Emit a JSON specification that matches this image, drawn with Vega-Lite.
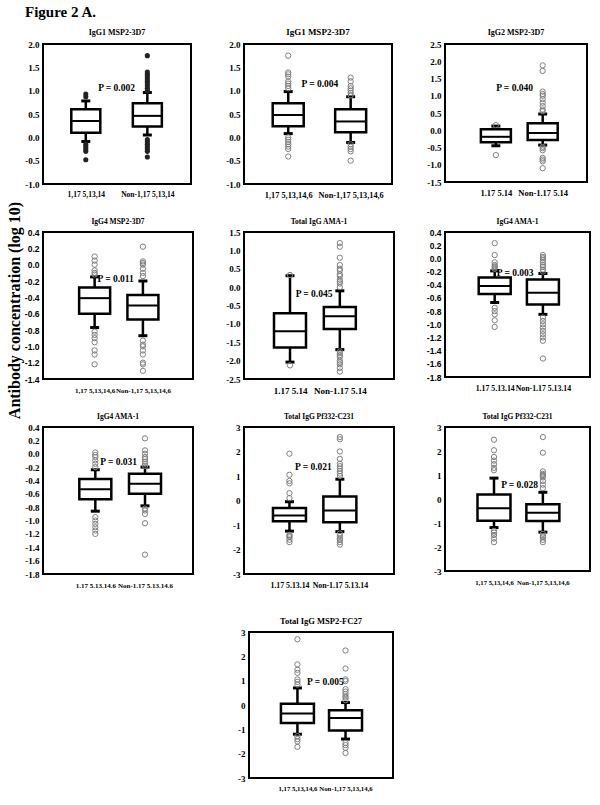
{
  "$schema": "https://vega.github.io/schema/vega-lite/v6.json",
  "background": "white",
  "padding": 5,
  "title": {"text": "Figure 2 A.", "anchor": "start", "frame": "group", "font": "Liberation Serif", "fontSize": 15, "fontWeight": "bold", "color": "black", "dx": -18, "offset": 7},
  "datasets": {
    "boxes": [
      {"panel": "p1", "g": 1, "lo": -0.09, "q1": 0.1, "med": 0.35, "q3": 0.6, "hi": 0.78},
      {"panel": "p1", "g": 2, "lo": 0.05, "q1": 0.23, "med": 0.46, "q3": 0.73, "hi": 0.96},
      {"panel": "p2", "g": 1, "lo": 0.08, "q1": 0.24, "med": 0.48, "q3": 0.73, "hi": 0.98},
      {"panel": "p2", "g": 2, "lo": -0.11, "q1": 0.11, "med": 0.34, "q3": 0.6, "hi": 0.87},
      {"panel": "p3", "g": 1, "lo": -0.45, "q1": -0.35, "med": -0.19, "q3": 0.03, "hi": 0.12},
      {"panel": "p3", "g": 2, "lo": -0.43, "q1": -0.28, "med": -0.08, "q3": 0.2, "hi": 0.47},
      {"panel": "p4", "g": 1, "lo": -0.77, "q1": -0.6, "med": -0.41, "q3": -0.28, "hi": -0.15},
      {"panel": "p4", "g": 2, "lo": -0.87, "q1": -0.67, "med": -0.5, "q3": -0.37, "hi": -0.2},
      {"panel": "p5", "g": 1, "lo": -2.04, "q1": -1.64, "med": -1.2, "q3": -0.71, "hi": 0.31},
      {"panel": "p5", "g": 2, "lo": -1.7, "q1": -1.14, "med": -0.79, "q3": -0.54, "hi": -0.1},
      {"panel": "p6", "g": 1, "lo": -0.67, "q1": -0.54, "med": -0.42, "q3": -0.29, "hi": -0.19},
      {"panel": "p6", "g": 2, "lo": -0.85, "q1": -0.7, "med": -0.52, "q3": -0.32, "hi": -0.23},
      {"panel": "p7", "g": 1, "lo": -0.86, "q1": -0.68, "med": -0.53, "q3": -0.38, "hi": -0.24},
      {"panel": "p7", "g": 2, "lo": -0.78, "q1": -0.6, "med": -0.45, "q3": -0.3, "hi": -0.2},
      {"panel": "p8", "g": 1, "lo": -1.25, "q1": -0.85, "med": -0.61, "q3": -0.31, "hi": -0.05},
      {"panel": "p8", "g": 2, "lo": -1.27, "q1": -0.89, "med": -0.41, "q3": 0.16, "hi": 0.87},
      {"panel": "p9", "g": 1, "lo": -1.19, "q1": -0.91, "med": -0.39, "q3": 0.19, "hi": 0.87},
      {"panel": "p9", "g": 2, "lo": -1.38, "q1": -0.92, "med": -0.57, "q3": -0.22, "hi": 0.28},
      {"panel": "p10", "g": 1, "lo": -1.2, "q1": -0.74, "med": -0.35, "q3": 0.05, "hi": 0.7},
      {"panel": "p10", "g": 2, "lo": -1.4, "q1": -1.05, "med": -0.53, "q3": -0.22, "hi": 0.1}
    ],
    "outliers": [
      {"panel": "p1", "g": 1, "v": 0.93}, {"panel": "p1", "g": 1, "v": 0.87}, {"panel": "p1", "g": 1, "v": -0.15}, {"panel": "p1", "g": 1, "v": -0.2}, {"panel": "p1", "g": 1, "v": -0.25}, {"panel": "p1", "g": 1, "v": -0.3}, {"panel": "p1", "g": 1, "v": -0.48},
      {"panel": "p1", "g": 2, "v": 1.0}, {"panel": "p1", "g": 2, "v": 1.05}, {"panel": "p1", "g": 2, "v": 1.1}, {"panel": "p1", "g": 2, "v": 1.15}, {"panel": "p1", "g": 2, "v": 1.2}, {"panel": "p1", "g": 2, "v": 1.25}, {"panel": "p1", "g": 2, "v": 1.3}, {"panel": "p1", "g": 2, "v": 1.35}, {"panel": "p1", "g": 2, "v": 1.4}, {"panel": "p1", "g": 2, "v": 1.75}, {"panel": "p1", "g": 2, "v": -0.05}, {"panel": "p1", "g": 2, "v": -0.1}, {"panel": "p1", "g": 2, "v": -0.15}, {"panel": "p1", "g": 2, "v": -0.2}, {"panel": "p1", "g": 2, "v": -0.25}, {"panel": "p1", "g": 2, "v": -0.3}, {"panel": "p1", "g": 2, "v": -0.42},
      {"panel": "p2", "g": 1, "v": 1.05}, {"panel": "p2", "g": 1, "v": 1.1}, {"panel": "p2", "g": 1, "v": 1.15}, {"panel": "p2", "g": 1, "v": 1.2}, {"panel": "p2", "g": 1, "v": 1.3}, {"panel": "p2", "g": 1, "v": 1.35}, {"panel": "p2", "g": 1, "v": 1.39}, {"panel": "p2", "g": 1, "v": 1.75}, {"panel": "p2", "g": 1, "v": 0.0}, {"panel": "p2", "g": 1, "v": -0.05}, {"panel": "p2", "g": 1, "v": -0.1}, {"panel": "p2", "g": 1, "v": -0.15}, {"panel": "p2", "g": 1, "v": -0.2}, {"panel": "p2", "g": 1, "v": -0.25}, {"panel": "p2", "g": 1, "v": -0.41},
      {"panel": "p2", "g": 2, "v": 0.9}, {"panel": "p2", "g": 2, "v": 0.95}, {"panel": "p2", "g": 2, "v": 1.0}, {"panel": "p2", "g": 2, "v": 1.05}, {"panel": "p2", "g": 2, "v": 1.1}, {"panel": "p2", "g": 2, "v": 1.2}, {"panel": "p2", "g": 2, "v": 1.28}, {"panel": "p2", "g": 2, "v": -0.15}, {"panel": "p2", "g": 2, "v": -0.2}, {"panel": "p2", "g": 2, "v": -0.25}, {"panel": "p2", "g": 2, "v": -0.3}, {"panel": "p2", "g": 2, "v": -0.5},
      {"panel": "p3", "g": 1, "v": 0.15}, {"panel": "p3", "g": 1, "v": -0.72},
      {"panel": "p3", "g": 2, "v": 0.55}, {"panel": "p3", "g": 2, "v": 0.6}, {"panel": "p3", "g": 2, "v": 0.7}, {"panel": "p3", "g": 2, "v": 0.8}, {"panel": "p3", "g": 2, "v": 0.9}, {"panel": "p3", "g": 2, "v": 1.0}, {"panel": "p3", "g": 2, "v": 1.05}, {"panel": "p3", "g": 2, "v": 1.12}, {"panel": "p3", "g": 2, "v": 1.72}, {"panel": "p3", "g": 2, "v": 1.88}, {"panel": "p3", "g": 2, "v": -0.48}, {"panel": "p3", "g": 2, "v": -0.52}, {"panel": "p3", "g": 2, "v": -0.58}, {"panel": "p3", "g": 2, "v": -0.8}, {"panel": "p3", "g": 2, "v": -0.85}, {"panel": "p3", "g": 2, "v": -0.9}, {"panel": "p3", "g": 2, "v": -1.1},
      {"panel": "p4", "g": 1, "v": 0.1}, {"panel": "p4", "g": 1, "v": 0.05}, {"panel": "p4", "g": 1, "v": 0.0}, {"panel": "p4", "g": 1, "v": -0.07}, {"panel": "p4", "g": 1, "v": -0.1}, {"panel": "p4", "g": 1, "v": -0.12}, {"panel": "p4", "g": 1, "v": -0.82}, {"panel": "p4", "g": 1, "v": -0.86}, {"panel": "p4", "g": 1, "v": -0.9}, {"panel": "p4", "g": 1, "v": -0.95}, {"panel": "p4", "g": 1, "v": -1.05}, {"panel": "p4", "g": 1, "v": -1.1}, {"panel": "p4", "g": 1, "v": -1.22},
      {"panel": "p4", "g": 2, "v": 0.22}, {"panel": "p4", "g": 2, "v": 0.04}, {"panel": "p4", "g": 2, "v": 0.02}, {"panel": "p4", "g": 2, "v": 0.0}, {"panel": "p4", "g": 2, "v": -0.05}, {"panel": "p4", "g": 2, "v": -0.1}, {"panel": "p4", "g": 2, "v": -0.14}, {"panel": "p4", "g": 2, "v": -0.93}, {"panel": "p4", "g": 2, "v": -0.98}, {"panel": "p4", "g": 2, "v": -1.0}, {"panel": "p4", "g": 2, "v": -1.05}, {"panel": "p4", "g": 2, "v": -1.1}, {"panel": "p4", "g": 2, "v": -1.2}, {"panel": "p4", "g": 2, "v": -1.22}, {"panel": "p4", "g": 2, "v": -1.3},
      {"panel": "p5", "g": 1, "v": 0.33}, {"panel": "p5", "g": 1, "v": -2.13},
      {"panel": "p5", "g": 2, "v": 1.2}, {"panel": "p5", "g": 2, "v": 1.1}, {"panel": "p5", "g": 2, "v": 0.8}, {"panel": "p5", "g": 2, "v": 0.6}, {"panel": "p5", "g": 2, "v": 0.5}, {"panel": "p5", "g": 2, "v": 0.45}, {"panel": "p5", "g": 2, "v": 0.35}, {"panel": "p5", "g": 2, "v": 0.3}, {"panel": "p5", "g": 2, "v": 0.2}, {"panel": "p5", "g": 2, "v": 0.15}, {"panel": "p5", "g": 2, "v": 0.1}, {"panel": "p5", "g": 2, "v": 0.0}, {"panel": "p5", "g": 2, "v": -1.75}, {"panel": "p5", "g": 2, "v": -1.8}, {"panel": "p5", "g": 2, "v": -1.85}, {"panel": "p5", "g": 2, "v": -1.9}, {"panel": "p5", "g": 2, "v": -2.0}, {"panel": "p5", "g": 2, "v": -2.05}, {"panel": "p5", "g": 2, "v": -2.1}, {"panel": "p5", "g": 2, "v": -2.2}, {"panel": "p5", "g": 2, "v": -2.3},
      {"panel": "p6", "g": 1, "v": 0.23}, {"panel": "p6", "g": 1, "v": 0.05}, {"panel": "p6", "g": 1, "v": -0.06}, {"panel": "p6", "g": 1, "v": -0.1}, {"panel": "p6", "g": 1, "v": -0.12}, {"panel": "p6", "g": 1, "v": -0.14}, {"panel": "p6", "g": 1, "v": -0.16}, {"panel": "p6", "g": 1, "v": -0.75}, {"panel": "p6", "g": 1, "v": -0.8}, {"panel": "p6", "g": 1, "v": -0.85}, {"panel": "p6", "g": 1, "v": -0.94}, {"panel": "p6", "g": 1, "v": -1.04},
      {"panel": "p6", "g": 2, "v": 0.05}, {"panel": "p6", "g": 2, "v": 0.02}, {"panel": "p6", "g": 2, "v": 0.0}, {"panel": "p6", "g": 2, "v": -0.03}, {"panel": "p6", "g": 2, "v": -0.06}, {"panel": "p6", "g": 2, "v": -0.1}, {"panel": "p6", "g": 2, "v": -0.13}, {"panel": "p6", "g": 2, "v": -0.17}, {"panel": "p6", "g": 2, "v": -0.2}, {"panel": "p6", "g": 2, "v": -0.9}, {"panel": "p6", "g": 2, "v": -0.95}, {"panel": "p6", "g": 2, "v": -1.0}, {"panel": "p6", "g": 2, "v": -1.05}, {"panel": "p6", "g": 2, "v": -1.1}, {"panel": "p6", "g": 2, "v": -1.15}, {"panel": "p6", "g": 2, "v": -1.2}, {"panel": "p6", "g": 2, "v": -1.25}, {"panel": "p6", "g": 2, "v": -1.52},
      {"panel": "p7", "g": 1, "v": 0.02}, {"panel": "p7", "g": 1, "v": -0.02}, {"panel": "p7", "g": 1, "v": -0.05}, {"panel": "p7", "g": 1, "v": -0.1}, {"panel": "p7", "g": 1, "v": -0.15}, {"panel": "p7", "g": 1, "v": -0.2}, {"panel": "p7", "g": 1, "v": -0.95}, {"panel": "p7", "g": 1, "v": -1.0}, {"panel": "p7", "g": 1, "v": -1.05}, {"panel": "p7", "g": 1, "v": -1.1}, {"panel": "p7", "g": 1, "v": -1.15}, {"panel": "p7", "g": 1, "v": -1.2},
      {"panel": "p7", "g": 2, "v": 0.23}, {"panel": "p7", "g": 2, "v": 0.05}, {"panel": "p7", "g": 2, "v": 0.0}, {"panel": "p7", "g": 2, "v": -0.05}, {"panel": "p7", "g": 2, "v": -0.08}, {"panel": "p7", "g": 2, "v": -0.12}, {"panel": "p7", "g": 2, "v": -0.15}, {"panel": "p7", "g": 2, "v": -0.18}, {"panel": "p7", "g": 2, "v": -0.82}, {"panel": "p7", "g": 2, "v": -0.85}, {"panel": "p7", "g": 2, "v": -0.9}, {"panel": "p7", "g": 2, "v": -1.04}, {"panel": "p7", "g": 2, "v": -1.51},
      {"panel": "p8", "g": 1, "v": 1.91}, {"panel": "p8", "g": 1, "v": 1.05}, {"panel": "p8", "g": 1, "v": 0.8}, {"panel": "p8", "g": 1, "v": 0.7}, {"panel": "p8", "g": 1, "v": 0.3}, {"panel": "p8", "g": 1, "v": 0.1}, {"panel": "p8", "g": 1, "v": -1.4}, {"panel": "p8", "g": 1, "v": -1.45}, {"panel": "p8", "g": 1, "v": -1.5}, {"panel": "p8", "g": 1, "v": -1.6}, {"panel": "p8", "g": 1, "v": -1.7},
      {"panel": "p8", "g": 2, "v": 2.59}, {"panel": "p8", "g": 2, "v": 2.5}, {"panel": "p8", "g": 2, "v": 2.0}, {"panel": "p8", "g": 2, "v": 1.7}, {"panel": "p8", "g": 2, "v": 1.5}, {"panel": "p8", "g": 2, "v": 1.4}, {"panel": "p8", "g": 2, "v": 1.3}, {"panel": "p8", "g": 2, "v": 1.2}, {"panel": "p8", "g": 2, "v": 1.1}, {"panel": "p8", "g": 2, "v": 1.0}, {"panel": "p8", "g": 2, "v": -1.35}, {"panel": "p8", "g": 2, "v": -1.45}, {"panel": "p8", "g": 2, "v": -1.55}, {"panel": "p8", "g": 2, "v": -1.6}, {"panel": "p8", "g": 2, "v": -1.7}, {"panel": "p8", "g": 2, "v": -1.8},
      {"panel": "p9", "g": 1, "v": 2.47}, {"panel": "p9", "g": 1, "v": 2.03}, {"panel": "p9", "g": 1, "v": 1.75}, {"panel": "p9", "g": 1, "v": 1.6}, {"panel": "p9", "g": 1, "v": 1.45}, {"panel": "p9", "g": 1, "v": 1.3}, {"panel": "p9", "g": 1, "v": 1.2}, {"panel": "p9", "g": 1, "v": -1.33}, {"panel": "p9", "g": 1, "v": -1.4}, {"panel": "p9", "g": 1, "v": -1.5}, {"panel": "p9", "g": 1, "v": -1.65}, {"panel": "p9", "g": 1, "v": -1.8},
      {"panel": "p9", "g": 2, "v": 2.58}, {"panel": "p9", "g": 2, "v": 1.93}, {"panel": "p9", "g": 2, "v": 1.15}, {"panel": "p9", "g": 2, "v": 1.05}, {"panel": "p9", "g": 2, "v": 1.0}, {"panel": "p9", "g": 2, "v": 0.95}, {"panel": "p9", "g": 2, "v": 0.9}, {"panel": "p9", "g": 2, "v": 0.75}, {"panel": "p9", "g": 2, "v": 0.6}, {"panel": "p9", "g": 2, "v": 0.45}, {"panel": "p9", "g": 2, "v": -1.45}, {"panel": "p9", "g": 2, "v": -1.55}, {"panel": "p9", "g": 2, "v": -1.6}, {"panel": "p9", "g": 2, "v": -1.7}, {"panel": "p9", "g": 2, "v": -1.8},
      {"panel": "p10", "g": 1, "v": 2.7}, {"panel": "p10", "g": 1, "v": 1.67}, {"panel": "p10", "g": 1, "v": 1.45}, {"panel": "p10", "g": 1, "v": 1.32}, {"panel": "p10", "g": 1, "v": 1.05}, {"panel": "p10", "g": 1, "v": 0.95}, {"panel": "p10", "g": 1, "v": 0.84}, {"panel": "p10", "g": 1, "v": -1.28}, {"panel": "p10", "g": 1, "v": -1.4}, {"panel": "p10", "g": 1, "v": -1.5}, {"panel": "p10", "g": 1, "v": -1.72},
      {"panel": "p10", "g": 2, "v": 2.24}, {"panel": "p10", "g": 2, "v": 1.5}, {"panel": "p10", "g": 2, "v": 1.05}, {"panel": "p10", "g": 2, "v": 0.98}, {"panel": "p10", "g": 2, "v": 0.65}, {"panel": "p10", "g": 2, "v": 0.55}, {"panel": "p10", "g": 2, "v": 0.45}, {"panel": "p10", "g": 2, "v": 0.35}, {"panel": "p10", "g": 2, "v": 0.3}, {"panel": "p10", "g": 2, "v": 0.2}, {"panel": "p10", "g": 2, "v": -1.56}, {"panel": "p10", "g": 2, "v": -1.65}, {"panel": "p10", "g": 2, "v": -1.76}, {"panel": "p10", "g": 2, "v": -1.97}
    ],
    "pvals": [
      {"panel": "p1", "p": "P = 0.002", "px": 1.5, "py": 1.05}, {"panel": "p2", "p": "P = 0.004", "px": 1.508, "py": 1.14}, {"panel": "p3", "p": "P = 0.040", "px": 1.4, "py": 1.23},
      {"panel": "p4", "p": "P = 0.011", "px": 1.435, "py": -0.18}, {"panel": "p5", "p": "P = 0.045", "px": 1.483, "py": -0.18}, {"panel": "p6", "p": "P = 0.003", "px": 1.425, "py": -0.22},
      {"panel": "p7", "p": "P = 0.031", "px": 1.47, "py": -0.13}, {"panel": "p8", "p": "P = 0.021", "px": 1.475, "py": 1.36}, {"panel": "p9", "p": "P = 0.028", "px": 1.523, "py": 0.58},
      {"panel": "p10", "p": "P = 0.005", "px": 1.582, "py": 0.95}
    ]
  },
  "spacing": 25,
  "vconcat": [
    {
      "columns": 3,
      "bounds": "flush",
      "align": "each",
      "spacing": {"row": 48, "column": 51},
      "concat": [
        {
          "width": 148, "height": 140,
          "title": {"text": "IgG1 MSP2-3D7", "fontSize": 8},
          "encoding": {"x": {"field": "g", "type": "quantitative", "title": null, "scale": {"domain": [0.386, 2.628]}, "axis": {"values": [1, 2], "labelExpr": "datum.value == 1 ? '1,17 5,13,14' : 'Non-1,17 5,13,14'", "labelFontSize": 7.5, "labelPadding": 6, "labelOverlap": false, "title": null}}},
          "layer": [
            {"data": {"name": "boxes"}, "transform": [{"filter": "datum.panel == 'p1'"}], "mark": {"type": "rule", "color": "black", "strokeWidth": 2.5}, "encoding": {"y": {"field": "lo", "type": "quantitative", "title": "Antibody concentration (log 10)", "scale": {"domain": [-1, 2]}, "axis": {"values": [-1, -0.5, 0, 0.5, 1, 1.5, 2], "tickCount": 30, "format": ".1f", "labelExpr": "replace(datum.label, '\u2212', '-')", "labelFontSize": 9, "labelOverlap": false, "title": "Antibody concentration (log 10)", "titleFontSize": 16, "titlePadding": 2, "titleY": 266}}, "y2": {"field": "hi"}}},
            {"data": {"name": "boxes"}, "transform": [{"filter": "datum.panel == 'p1'"}], "mark": {"type": "bar", "size": 29, "fill": "white", "stroke": "black", "strokeWidth": 2.5}, "encoding": {"y": {"field": "q1", "type": "quantitative"}, "y2": {"field": "q3"}}},
            {"data": {"name": "boxes"}, "transform": [{"filter": "datum.panel == 'p1'"}], "mark": {"type": "tick", "orient": "horizontal", "size": 29, "thickness": 2, "color": "black", "opacity": 1}, "encoding": {"y": {"field": "med", "type": "quantitative"}}},
            {"data": {"name": "boxes"}, "transform": [{"filter": "datum.panel == 'p1'"}], "mark": {"type": "tick", "orient": "horizontal", "size": 9, "thickness": 3, "color": "black", "opacity": 1}, "encoding": {"y": {"field": "lo", "type": "quantitative"}}},
            {"data": {"name": "boxes"}, "transform": [{"filter": "datum.panel == 'p1'"}], "mark": {"type": "tick", "orient": "horizontal", "size": 9, "thickness": 3, "color": "black", "opacity": 1}, "encoding": {"y": {"field": "hi", "type": "quantitative"}}},
            {"data": {"name": "outliers"}, "transform": [{"filter": "datum.panel == 'p1'"}], "mark": {"type": "point", "shape": "circle", "size": 26, "filled": true, "color": "#222222", "opacity": 1}, "encoding": {"y": {"field": "v", "type": "quantitative"}}},
            {"data": {"name": "pvals"}, "transform": [{"filter": "datum.panel == 'p1'"}], "mark": {"type": "text", "font": "Liberation Serif", "fontWeight": "bold", "fontSize": 9.5, "color": "black"}, "encoding": {"x": {"field": "px", "type": "quantitative", "title": null}, "y": {"field": "py", "type": "quantitative"}, "text": {"field": "p"}}}
          ]
        },
        {
          "width": 148, "height": 140,
          "title": {"text": "IgG1 MSP2-3D7", "fontSize": 9},
          "encoding": {"x": {"field": "g", "type": "quantitative", "title": null, "scale": {"domain": [0.372, 2.582]}, "axis": {"values": [1, 2], "labelExpr": "datum.value == 1 ? '1,17 5,13,14,6' : 'Non-1,17 5,13,14,6'", "labelFontSize": 8.3, "labelPadding": 6, "labelOverlap": false, "title": null}}},
          "layer": [
            {"data": {"name": "boxes"}, "transform": [{"filter": "datum.panel == 'p2'"}], "mark": {"type": "rule", "color": "black", "strokeWidth": 2.5}, "encoding": {"y": {"field": "lo", "type": "quantitative", "title": null, "scale": {"domain": [-1, 2]}, "axis": {"values": [-1, -0.5, 0, 0.5, 1, 1.5, 2], "tickCount": 30, "format": ".1f", "labelExpr": "replace(datum.label, '\u2212', '-')", "labelFontSize": 9, "labelOverlap": false, "title": null}}, "y2": {"field": "hi"}}},
            {"data": {"name": "boxes"}, "transform": [{"filter": "datum.panel == 'p2'"}], "mark": {"type": "bar", "size": 31, "fill": "white", "stroke": "black", "strokeWidth": 2.5}, "encoding": {"y": {"field": "q1", "type": "quantitative", "title": null}, "y2": {"field": "q3"}}},
            {"data": {"name": "boxes"}, "transform": [{"filter": "datum.panel == 'p2'"}], "mark": {"type": "tick", "orient": "horizontal", "size": 31, "thickness": 2, "color": "black", "opacity": 1}, "encoding": {"y": {"field": "med", "type": "quantitative", "title": null}}},
            {"data": {"name": "boxes"}, "transform": [{"filter": "datum.panel == 'p2'"}], "mark": {"type": "tick", "orient": "horizontal", "size": 9, "thickness": 3, "color": "black", "opacity": 1}, "encoding": {"y": {"field": "lo", "type": "quantitative", "title": null}}},
            {"data": {"name": "boxes"}, "transform": [{"filter": "datum.panel == 'p2'"}], "mark": {"type": "tick", "orient": "horizontal", "size": 9, "thickness": 3, "color": "black", "opacity": 1}, "encoding": {"y": {"field": "hi", "type": "quantitative", "title": null}}},
            {"data": {"name": "outliers"}, "transform": [{"filter": "datum.panel == 'p2'"}], "mark": {"type": "point", "shape": "circle", "size": 28, "filled": false, "color": "#808080", "strokeWidth": 1, "opacity": 1}, "encoding": {"y": {"field": "v", "type": "quantitative", "title": null}}},
            {"data": {"name": "pvals"}, "transform": [{"filter": "datum.panel == 'p2'"}], "mark": {"type": "text", "font": "Liberation Serif", "fontWeight": "bold", "fontSize": 9.5, "color": "black"}, "encoding": {"x": {"field": "px", "type": "quantitative", "title": null}, "y": {"field": "py", "type": "quantitative", "title": null}, "text": {"field": "p"}}}
          ]
        },
        {
          "width": 142, "height": 138,
          "title": {"text": "IgG2 MSP2-3D7", "fontSize": 8},
          "encoding": {"x": {"field": "g", "type": "quantitative", "title": null, "scale": {"domain": [0.02, 2.84]}, "axis": {"values": [1, 2], "labelExpr": "datum.value == 1 ? '1.17 5.14' : 'Non-1.17 5.14'", "labelFontSize": 8.5, "labelPadding": 6, "labelOverlap": false, "title": null}}},
          "layer": [
            {"data": {"name": "boxes"}, "transform": [{"filter": "datum.panel == 'p3'"}], "mark": {"type": "rule", "color": "black", "strokeWidth": 2.5}, "encoding": {"y": {"field": "lo", "type": "quantitative", "title": null, "scale": {"domain": [-1.5, 2.5]}, "axis": {"values": [-1.5, -1, -0.5, 0, 0.5, 1, 1.5, 2, 2.5], "tickCount": 30, "format": ".1f", "labelExpr": "replace(datum.label, '\u2212', '-')", "labelFontSize": 9, "labelOverlap": false, "title": null}}, "y2": {"field": "hi"}}},
            {"data": {"name": "boxes"}, "transform": [{"filter": "datum.panel == 'p3'"}], "mark": {"type": "bar", "size": 30, "fill": "white", "stroke": "black", "strokeWidth": 2.5}, "encoding": {"y": {"field": "q1", "type": "quantitative", "title": null}, "y2": {"field": "q3"}}},
            {"data": {"name": "boxes"}, "transform": [{"filter": "datum.panel == 'p3'"}], "mark": {"type": "tick", "orient": "horizontal", "size": 30, "thickness": 2, "color": "black", "opacity": 1}, "encoding": {"y": {"field": "med", "type": "quantitative", "title": null}}},
            {"data": {"name": "boxes"}, "transform": [{"filter": "datum.panel == 'p3'"}], "mark": {"type": "tick", "orient": "horizontal", "size": 9, "thickness": 3, "color": "black", "opacity": 1}, "encoding": {"y": {"field": "lo", "type": "quantitative", "title": null}}},
            {"data": {"name": "boxes"}, "transform": [{"filter": "datum.panel == 'p3'"}], "mark": {"type": "tick", "orient": "horizontal", "size": 9, "thickness": 3, "color": "black", "opacity": 1}, "encoding": {"y": {"field": "hi", "type": "quantitative", "title": null}}},
            {"data": {"name": "outliers"}, "transform": [{"filter": "datum.panel == 'p3'"}], "mark": {"type": "point", "shape": "circle", "size": 28, "filled": false, "color": "#808080", "strokeWidth": 1, "opacity": 1}, "encoding": {"y": {"field": "v", "type": "quantitative", "title": null}}},
            {"data": {"name": "pvals"}, "transform": [{"filter": "datum.panel == 'p3'"}], "mark": {"type": "text", "font": "Liberation Serif", "fontWeight": "bold", "fontSize": 9.5, "color": "black"}, "encoding": {"x": {"field": "px", "type": "quantitative", "title": null}, "y": {"field": "py", "type": "quantitative", "title": null}, "text": {"field": "p"}}}
          ]
        },
        {
          "width": 150, "height": 147,
          "title": {"text": "IgG4 MSP2-3D7", "fontSize": 7.5},
          "encoding": {"x": {"field": "g", "type": "quantitative", "title": null, "scale": {"domain": [0.034, 2.934]}, "axis": {"values": [1, 2], "labelExpr": "datum.value == 1 ? '1,17 5,13,14,6' : 'Non-1,17 5,13,14,6'", "labelFontSize": 7, "labelPadding": 7, "labelOverlap": false, "title": null}}},
          "layer": [
            {"data": {"name": "boxes"}, "transform": [{"filter": "datum.panel == 'p4'"}], "mark": {"type": "rule", "color": "black", "strokeWidth": 2.5}, "encoding": {"y": {"field": "lo", "type": "quantitative", "title": null, "scale": {"domain": [-1.4, 0.4]}, "axis": {"values": [-1.4, -1.2, -1, -0.8, -0.6, -0.4, -0.2, 0, 0.2, 0.4], "tickCount": 30, "format": ".1f", "labelExpr": "replace(datum.label, '\u2212', '-')", "labelFont": "Liberation Sans", "labelFontSize": 8.5, "labelOverlap": false, "title": null}}, "y2": {"field": "hi"}}},
            {"data": {"name": "boxes"}, "transform": [{"filter": "datum.panel == 'p4'"}], "mark": {"type": "bar", "size": 31, "fill": "white", "stroke": "black", "strokeWidth": 2.5}, "encoding": {"y": {"field": "q1", "type": "quantitative", "title": null}, "y2": {"field": "q3"}}},
            {"data": {"name": "boxes"}, "transform": [{"filter": "datum.panel == 'p4'"}], "mark": {"type": "tick", "orient": "horizontal", "size": 31, "thickness": 2, "color": "black", "opacity": 1}, "encoding": {"y": {"field": "med", "type": "quantitative", "title": null}}},
            {"data": {"name": "boxes"}, "transform": [{"filter": "datum.panel == 'p4'"}], "mark": {"type": "tick", "orient": "horizontal", "size": 9, "thickness": 3, "color": "black", "opacity": 1}, "encoding": {"y": {"field": "lo", "type": "quantitative", "title": null}}},
            {"data": {"name": "boxes"}, "transform": [{"filter": "datum.panel == 'p4'"}], "mark": {"type": "tick", "orient": "horizontal", "size": 9, "thickness": 3, "color": "black", "opacity": 1}, "encoding": {"y": {"field": "hi", "type": "quantitative", "title": null}}},
            {"data": {"name": "outliers"}, "transform": [{"filter": "datum.panel == 'p4'"}], "mark": {"type": "point", "shape": "circle", "size": 28, "filled": false, "color": "#808080", "strokeWidth": 1, "opacity": 1}, "encoding": {"y": {"field": "v", "type": "quantitative", "title": null}}},
            {"data": {"name": "pvals"}, "transform": [{"filter": "datum.panel == 'p4'"}], "mark": {"type": "text", "font": "Liberation Serif", "fontWeight": "bold", "fontSize": 9.5, "color": "black"}, "encoding": {"x": {"field": "px", "type": "quantitative", "title": null}, "y": {"field": "py", "type": "quantitative", "title": null}, "text": {"field": "p"}}}
          ]
        },
        {
          "width": 150, "height": 147,
          "title": {"text": "Total IgG AMA-1", "fontSize": 7.5},
          "encoding": {"x": {"field": "g", "type": "quantitative", "title": null, "scale": {"domain": [0.177, 2.987]}, "axis": {"values": [1, 2], "labelExpr": "datum.value == 1 ? '1.17 5.14' : 'Non-1.17 5.14'", "labelFontSize": 9, "labelPadding": 7, "labelOverlap": false, "title": null}}},
          "layer": [
            {"data": {"name": "boxes"}, "transform": [{"filter": "datum.panel == 'p5'"}], "mark": {"type": "rule", "color": "black", "strokeWidth": 2.5}, "encoding": {"y": {"field": "lo", "type": "quantitative", "title": null, "scale": {"domain": [-2.5, 1.5]}, "axis": {"values": [-2.5, -2, -1.5, -1, -0.5, 0, 0.5, 1, 1.5], "tickCount": 30, "format": ".1f", "labelExpr": "replace(datum.label, '\u2212', '-')", "labelFontSize": 9, "labelOverlap": false, "title": null}}, "y2": {"field": "hi"}}},
            {"data": {"name": "boxes"}, "transform": [{"filter": "datum.panel == 'p5'"}], "mark": {"type": "bar", "size": 32, "fill": "white", "stroke": "black", "strokeWidth": 2.5}, "encoding": {"y": {"field": "q1", "type": "quantitative", "title": null}, "y2": {"field": "q3"}}},
            {"data": {"name": "boxes"}, "transform": [{"filter": "datum.panel == 'p5'"}], "mark": {"type": "tick", "orient": "horizontal", "size": 32, "thickness": 2, "color": "black", "opacity": 1}, "encoding": {"y": {"field": "med", "type": "quantitative", "title": null}}},
            {"data": {"name": "boxes"}, "transform": [{"filter": "datum.panel == 'p5'"}], "mark": {"type": "tick", "orient": "horizontal", "size": 9, "thickness": 3, "color": "black", "opacity": 1}, "encoding": {"y": {"field": "lo", "type": "quantitative", "title": null}}},
            {"data": {"name": "boxes"}, "transform": [{"filter": "datum.panel == 'p5'"}], "mark": {"type": "tick", "orient": "horizontal", "size": 9, "thickness": 3, "color": "black", "opacity": 1}, "encoding": {"y": {"field": "hi", "type": "quantitative", "title": null}}},
            {"data": {"name": "outliers"}, "transform": [{"filter": "datum.panel == 'p5'"}], "mark": {"type": "point", "shape": "circle", "size": 28, "filled": false, "color": "#808080", "strokeWidth": 1, "opacity": 1}, "encoding": {"y": {"field": "v", "type": "quantitative", "title": null}}},
            {"data": {"name": "pvals"}, "transform": [{"filter": "datum.panel == 'p5'"}], "mark": {"type": "text", "font": "Liberation Serif", "fontWeight": "bold", "fontSize": 9.5, "color": "black"}, "encoding": {"x": {"field": "px", "type": "quantitative", "title": null}, "y": {"field": "py", "type": "quantitative", "title": null}, "text": {"field": "p"}}}
          ]
        },
        {
          "width": 145, "height": 145,
          "title": {"text": "IgG4 AMA-1", "fontSize": 7.5},
          "encoding": {"x": {"field": "g", "type": "quantitative", "title": null, "scale": {"domain": [0.073, 2.873]}, "axis": {"values": [1, 2], "labelExpr": "datum.value == 1 ? '1.17 5.13.14' : 'Non-1.17 5.13.14'", "labelFontSize": 7.8, "labelPadding": 7, "labelOverlap": false, "title": null}}},
          "layer": [
            {"data": {"name": "boxes"}, "transform": [{"filter": "datum.panel == 'p6'"}], "mark": {"type": "rule", "color": "black", "strokeWidth": 2.5}, "encoding": {"y": {"field": "lo", "type": "quantitative", "title": null, "scale": {"domain": [-1.8, 0.4]}, "axis": {"values": [-1.8, -1.6, -1.4, -1.2, -1, -0.8, -0.6, -0.4, -0.2, 0, 0.2, 0.4], "tickCount": 30, "format": ".1f", "labelExpr": "replace(datum.label, '\u2212', '-')", "labelFont": "Liberation Sans", "labelFontSize": 8.5, "labelOverlap": false, "title": null}}, "y2": {"field": "hi"}}},
            {"data": {"name": "boxes"}, "transform": [{"filter": "datum.panel == 'p6'"}], "mark": {"type": "bar", "size": 32, "fill": "white", "stroke": "black", "strokeWidth": 2.5}, "encoding": {"y": {"field": "q1", "type": "quantitative", "title": null}, "y2": {"field": "q3"}}},
            {"data": {"name": "boxes"}, "transform": [{"filter": "datum.panel == 'p6'"}], "mark": {"type": "tick", "orient": "horizontal", "size": 32, "thickness": 2, "color": "black", "opacity": 1}, "encoding": {"y": {"field": "med", "type": "quantitative", "title": null}}},
            {"data": {"name": "boxes"}, "transform": [{"filter": "datum.panel == 'p6'"}], "mark": {"type": "tick", "orient": "horizontal", "size": 9, "thickness": 3, "color": "black", "opacity": 1}, "encoding": {"y": {"field": "lo", "type": "quantitative", "title": null}}},
            {"data": {"name": "boxes"}, "transform": [{"filter": "datum.panel == 'p6'"}], "mark": {"type": "tick", "orient": "horizontal", "size": 9, "thickness": 3, "color": "black", "opacity": 1}, "encoding": {"y": {"field": "hi", "type": "quantitative", "title": null}}},
            {"data": {"name": "outliers"}, "transform": [{"filter": "datum.panel == 'p6'"}], "mark": {"type": "point", "shape": "circle", "size": 28, "filled": false, "color": "#808080", "strokeWidth": 1, "opacity": 1}, "encoding": {"y": {"field": "v", "type": "quantitative", "title": null}}},
            {"data": {"name": "pvals"}, "transform": [{"filter": "datum.panel == 'p6'"}], "mark": {"type": "text", "font": "Liberation Serif", "fontWeight": "bold", "fontSize": 9.5, "color": "black"}, "encoding": {"x": {"field": "px", "type": "quantitative", "title": null}, "y": {"field": "py", "type": "quantitative", "title": null}, "text": {"field": "p"}}}
          ]
        },
        {
          "width": 150, "height": 147,
          "title": {"text": "IgG4 AMA-1", "fontSize": 7.5},
          "encoding": {"x": {"field": "g", "type": "quantitative", "title": null, "scale": {"domain": [0.048, 2.865]}, "axis": {"values": [1, 2], "labelExpr": "datum.value == 1 ? '1.17 5.13.14.6' : 'Non-1.17 5.13.14.6'", "labelFontSize": 7, "labelPadding": 7, "labelOverlap": false, "title": null}}},
          "layer": [
            {"data": {"name": "boxes"}, "transform": [{"filter": "datum.panel == 'p7'"}], "mark": {"type": "rule", "color": "black", "strokeWidth": 2.5}, "encoding": {"y": {"field": "lo", "type": "quantitative", "title": null, "scale": {"domain": [-1.8, 0.4]}, "axis": {"values": [-1.8, -1.6, -1.4, -1.2, -1, -0.8, -0.6, -0.4, -0.2, 0, 0.2, 0.4], "tickCount": 30, "format": ".1f", "labelExpr": "replace(datum.label, '\u2212', '-')", "labelFontSize": 9, "labelOverlap": false, "title": null}}, "y2": {"field": "hi"}}},
            {"data": {"name": "boxes"}, "transform": [{"filter": "datum.panel == 'p7'"}], "mark": {"type": "bar", "size": 32, "fill": "white", "stroke": "black", "strokeWidth": 2.5}, "encoding": {"y": {"field": "q1", "type": "quantitative", "title": null}, "y2": {"field": "q3"}}},
            {"data": {"name": "boxes"}, "transform": [{"filter": "datum.panel == 'p7'"}], "mark": {"type": "tick", "orient": "horizontal", "size": 32, "thickness": 2, "color": "black", "opacity": 1}, "encoding": {"y": {"field": "med", "type": "quantitative", "title": null}}},
            {"data": {"name": "boxes"}, "transform": [{"filter": "datum.panel == 'p7'"}], "mark": {"type": "tick", "orient": "horizontal", "size": 9, "thickness": 3, "color": "black", "opacity": 1}, "encoding": {"y": {"field": "lo", "type": "quantitative", "title": null}}},
            {"data": {"name": "boxes"}, "transform": [{"filter": "datum.panel == 'p7'"}], "mark": {"type": "tick", "orient": "horizontal", "size": 9, "thickness": 3, "color": "black", "opacity": 1}, "encoding": {"y": {"field": "hi", "type": "quantitative", "title": null}}},
            {"data": {"name": "outliers"}, "transform": [{"filter": "datum.panel == 'p7'"}], "mark": {"type": "point", "shape": "circle", "size": 28, "filled": false, "color": "#808080", "strokeWidth": 1, "opacity": 1}, "encoding": {"y": {"field": "v", "type": "quantitative", "title": null}}},
            {"data": {"name": "pvals"}, "transform": [{"filter": "datum.panel == 'p7'"}], "mark": {"type": "text", "font": "Liberation Serif", "fontWeight": "bold", "fontSize": 9.5, "color": "black"}, "encoding": {"x": {"field": "px", "type": "quantitative", "title": null}, "y": {"field": "py", "type": "quantitative", "title": null}, "text": {"field": "p"}}}
          ]
        },
        {
          "width": 150, "height": 147,
          "title": {"text": "Total IgG Pf332-C231", "fontSize": 7.5},
          "encoding": {"x": {"field": "g", "type": "quantitative", "title": null, "scale": {"domain": [0.197, 2.975]}, "axis": {"values": [1, 2], "labelExpr": "datum.value == 1 ? '1.17 5.13.14' : 'Non-1.17 5.13.14'", "labelFontSize": 7.8, "labelPadding": 7, "labelOverlap": false, "title": null}}},
          "layer": [
            {"data": {"name": "boxes"}, "transform": [{"filter": "datum.panel == 'p8'"}], "mark": {"type": "rule", "color": "black", "strokeWidth": 2.5}, "encoding": {"y": {"field": "lo", "type": "quantitative", "title": null, "scale": {"domain": [-3, 3]}, "axis": {"values": [-3, -2, -1, 0, 1, 2, 3], "tickCount": 30, "format": "d", "labelExpr": "replace(datum.label, '\u2212', '-')", "labelFontSize": 9, "labelOverlap": false, "title": null}}, "y2": {"field": "hi"}}},
            {"data": {"name": "boxes"}, "transform": [{"filter": "datum.panel == 'p8'"}], "mark": {"type": "bar", "size": 33, "fill": "white", "stroke": "black", "strokeWidth": 2.5}, "encoding": {"y": {"field": "q1", "type": "quantitative", "title": null}, "y2": {"field": "q3"}}},
            {"data": {"name": "boxes"}, "transform": [{"filter": "datum.panel == 'p8'"}], "mark": {"type": "tick", "orient": "horizontal", "size": 33, "thickness": 2, "color": "black", "opacity": 1}, "encoding": {"y": {"field": "med", "type": "quantitative", "title": null}}},
            {"data": {"name": "boxes"}, "transform": [{"filter": "datum.panel == 'p8'"}], "mark": {"type": "tick", "orient": "horizontal", "size": 9, "thickness": 3, "color": "black", "opacity": 1}, "encoding": {"y": {"field": "lo", "type": "quantitative", "title": null}}},
            {"data": {"name": "boxes"}, "transform": [{"filter": "datum.panel == 'p8'"}], "mark": {"type": "tick", "orient": "horizontal", "size": 9, "thickness": 3, "color": "black", "opacity": 1}, "encoding": {"y": {"field": "hi", "type": "quantitative", "title": null}}},
            {"data": {"name": "outliers"}, "transform": [{"filter": "datum.panel == 'p8'"}], "mark": {"type": "point", "shape": "circle", "size": 28, "filled": false, "color": "#808080", "strokeWidth": 1, "opacity": 1}, "encoding": {"y": {"field": "v", "type": "quantitative", "title": null}}},
            {"data": {"name": "pvals"}, "transform": [{"filter": "datum.panel == 'p8'"}], "mark": {"type": "text", "font": "Liberation Serif", "fontWeight": "bold", "fontSize": 9.5, "color": "black"}, "encoding": {"x": {"field": "px", "type": "quantitative", "title": null}, "y": {"field": "py", "type": "quantitative", "title": null}, "text": {"field": "p"}}}
          ]
        },
        {
          "width": 145, "height": 144,
          "title": {"text": "Total IgG Pf332-C231", "fontSize": 7.5},
          "encoding": {"x": {"field": "g", "type": "quantitative", "title": null, "scale": {"domain": [0.1, 2.862]}, "axis": {"values": [1, 2], "labelExpr": "datum.value == 1 ? '1,17 5,13,14,6' : 'Non-1,17 5,13,14,6'", "labelFontSize": 6.7, "labelPadding": 8, "labelOverlap": false, "title": null}}},
          "layer": [
            {"data": {"name": "boxes"}, "transform": [{"filter": "datum.panel == 'p9'"}], "mark": {"type": "rule", "color": "black", "strokeWidth": 2.5}, "encoding": {"y": {"field": "lo", "type": "quantitative", "title": null, "scale": {"domain": [-3, 3]}, "axis": {"values": [-3, -2, -1, 0, 1, 2, 3], "tickCount": 30, "format": "d", "labelExpr": "replace(datum.label, '\u2212', '-')", "labelFontSize": 9, "labelOverlap": false, "title": null}}, "y2": {"field": "hi"}}},
            {"data": {"name": "boxes"}, "transform": [{"filter": "datum.panel == 'p9'"}], "mark": {"type": "bar", "size": 33, "fill": "white", "stroke": "black", "strokeWidth": 2.5}, "encoding": {"y": {"field": "q1", "type": "quantitative", "title": null}, "y2": {"field": "q3"}}},
            {"data": {"name": "boxes"}, "transform": [{"filter": "datum.panel == 'p9'"}], "mark": {"type": "tick", "orient": "horizontal", "size": 33, "thickness": 2, "color": "black", "opacity": 1}, "encoding": {"y": {"field": "med", "type": "quantitative", "title": null}}},
            {"data": {"name": "boxes"}, "transform": [{"filter": "datum.panel == 'p9'"}], "mark": {"type": "tick", "orient": "horizontal", "size": 9, "thickness": 3, "color": "black", "opacity": 1}, "encoding": {"y": {"field": "lo", "type": "quantitative", "title": null}}},
            {"data": {"name": "boxes"}, "transform": [{"filter": "datum.panel == 'p9'"}], "mark": {"type": "tick", "orient": "horizontal", "size": 9, "thickness": 3, "color": "black", "opacity": 1}, "encoding": {"y": {"field": "hi", "type": "quantitative", "title": null}}},
            {"data": {"name": "outliers"}, "transform": [{"filter": "datum.panel == 'p9'"}], "mark": {"type": "point", "shape": "circle", "size": 28, "filled": false, "color": "#808080", "strokeWidth": 1, "opacity": 1}, "encoding": {"y": {"field": "v", "type": "quantitative", "title": null}}},
            {"data": {"name": "pvals"}, "transform": [{"filter": "datum.panel == 'p9'"}], "mark": {"type": "text", "font": "Liberation Serif", "fontWeight": "bold", "fontSize": 9.5, "color": "black"}, "encoding": {"x": {"field": "px", "type": "quantitative", "title": null}, "y": {"field": "py", "type": "quantitative", "title": null}, "text": {"field": "p"}}}
          ]
        }
      ]
    },
    {
      "bounds": "flush",
      "spacing": 54,
      "hconcat": [
        {"width": 152, "height": 146, "data": {"values": [{"panel": "none"}]}, "mark": {"type": "point", "opacity": 0}, "encoding": {}, "view": {"stroke": null}},
        {
          "width": 144, "height": 146,
          "title": {"text": "Total IgG MSP2-FC27", "fontSize": 8.5},
          "encoding": {"x": {"field": "g", "type": "quantitative", "title": null, "scale": {"domain": [0.097, 2.883]}, "axis": {"values": [1, 2], "labelExpr": "datum.value == 1 ? '1,17 5,13,14,6' : 'Non-1,17 5,13,14,6'", "labelFontSize": 6.8, "labelPadding": 7, "labelOverlap": false, "title": null}}},
          "layer": [
            {"data": {"name": "boxes"}, "transform": [{"filter": "datum.panel == 'p10'"}], "mark": {"type": "rule", "color": "black", "strokeWidth": 2.5}, "encoding": {"y": {"field": "lo", "type": "quantitative", "title": null, "scale": {"domain": [-3, 3]}, "axis": {"values": [-3, -2, -1, 0, 1, 2, 3], "tickCount": 30, "format": "d", "labelExpr": "replace(datum.label, '\u2212', '-')", "labelFontSize": 9, "labelOverlap": false, "title": null}}, "y2": {"field": "hi"}}},
            {"data": {"name": "boxes"}, "transform": [{"filter": "datum.panel == 'p10'"}], "mark": {"type": "bar", "size": 33, "fill": "white", "stroke": "black", "strokeWidth": 2.5}, "encoding": {"y": {"field": "q1", "type": "quantitative", "title": null}, "y2": {"field": "q3"}}},
            {"data": {"name": "boxes"}, "transform": [{"filter": "datum.panel == 'p10'"}], "mark": {"type": "tick", "orient": "horizontal", "size": 33, "thickness": 2, "color": "black", "opacity": 1}, "encoding": {"y": {"field": "med", "type": "quantitative", "title": null}}},
            {"data": {"name": "boxes"}, "transform": [{"filter": "datum.panel == 'p10'"}], "mark": {"type": "tick", "orient": "horizontal", "size": 9, "thickness": 3, "color": "black", "opacity": 1}, "encoding": {"y": {"field": "lo", "type": "quantitative", "title": null}}},
            {"data": {"name": "boxes"}, "transform": [{"filter": "datum.panel == 'p10'"}], "mark": {"type": "tick", "orient": "horizontal", "size": 9, "thickness": 3, "color": "black", "opacity": 1}, "encoding": {"y": {"field": "hi", "type": "quantitative", "title": null}}},
            {"data": {"name": "outliers"}, "transform": [{"filter": "datum.panel == 'p10'"}], "mark": {"type": "point", "shape": "circle", "size": 28, "filled": false, "color": "#808080", "strokeWidth": 1, "opacity": 1}, "encoding": {"y": {"field": "v", "type": "quantitative", "title": null}}},
            {"data": {"name": "pvals"}, "transform": [{"filter": "datum.panel == 'p10'"}], "mark": {"type": "text", "font": "Liberation Serif", "fontWeight": "bold", "fontSize": 9.5, "color": "black"}, "encoding": {"x": {"field": "px", "type": "quantitative", "title": null}, "y": {"field": "py", "type": "quantitative", "title": null}, "text": {"field": "p"}}}
          ]
        }
      ]
    }
  ],
  "config": {
    "view": {"stroke": "black", "strokeWidth": 2},
    "axis": {"labelFont": "Liberation Serif", "labelFontWeight": "bold", "labelColor": "black", "ticks": false, "domain": false, "grid": false, "labelPadding": 4, "labelOverlap": false, "labelFlush": false, "titleFont": "Liberation Serif", "titleFontWeight": "bold", "titleColor": "black"},
    "title": {"font": "Liberation Serif", "fontWeight": "bold", "color": "black", "offset": 3, "fontSize": 8}
  }
}
